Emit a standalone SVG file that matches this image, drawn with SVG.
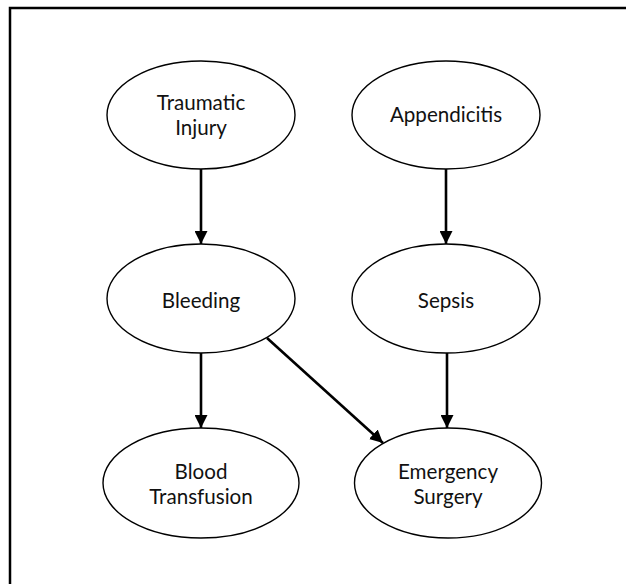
<svg xmlns="http://www.w3.org/2000/svg" width="626" height="584" viewBox="0 0 626 584">
<style>
.node ellipse{fill:#fff;stroke:#000;stroke-width:1.4}
.node text{font-family:Lato,"Open Sans",sans-serif;font-size:20.6px;fill:#111;text-anchor:middle}
.edge{stroke:#000;stroke-width:2.6;fill:none;marker-end:url(#arr)}
</style>
<defs>
<marker id="arr" markerUnits="userSpaceOnUse" markerWidth="13" markerHeight="13" viewBox="0 0 12 12" refX="12" refY="6" orient="auto">
<path d="M0,0 L12,6 L0,12 z" fill="#000"/>
</marker>
</defs>
<rect x="10" y="8" width="640" height="600" fill="#fff" stroke="#000" stroke-width="2.5"/>
<g id="connectors">
<line class="edge" x1="201" y1="169" x2="201" y2="244"/>
<line class="edge" x1="446" y1="169" x2="446" y2="244"/>
<line class="edge" x1="201" y1="353" x2="201" y2="428"/>
<line class="edge" x1="447" y1="353" x2="447" y2="428"/>
<line class="edge" x1="267" y1="338" x2="383" y2="443"/>
</g>
<g id="traumatic-injury" class="node">
<ellipse cx="201" cy="115" rx="94" ry="54"/>
<text x="201" y="110">Traumatic</text>
<text x="201" y="135">Injury</text>
</g>
<g id="appendicitis" class="node">
<ellipse cx="446" cy="115" rx="94" ry="54"/>
<text x="446" y="122">Appendicitis</text>
</g>
<g id="bleeding" class="node">
<ellipse cx="201" cy="298.5" rx="94" ry="54.5"/>
<text x="201" y="308">Bleeding</text>
</g>
<g id="sepsis" class="node">
<ellipse cx="446" cy="298.5" rx="94" ry="54.5"/>
<text x="446" y="308">Sepsis</text>
</g>
<g id="blood-transfusion" class="node">
<ellipse cx="201" cy="483" rx="98" ry="55"/>
<text x="201" y="479">Blood</text>
<text x="201" y="504">Transfusion</text>
</g>
<g id="emergency-surgery" class="node">
<ellipse cx="448" cy="483" rx="93.5" ry="55"/>
<text x="448" y="479">Emergency</text>
<text x="448" y="504">Surgery</text>
</g>
</svg>
